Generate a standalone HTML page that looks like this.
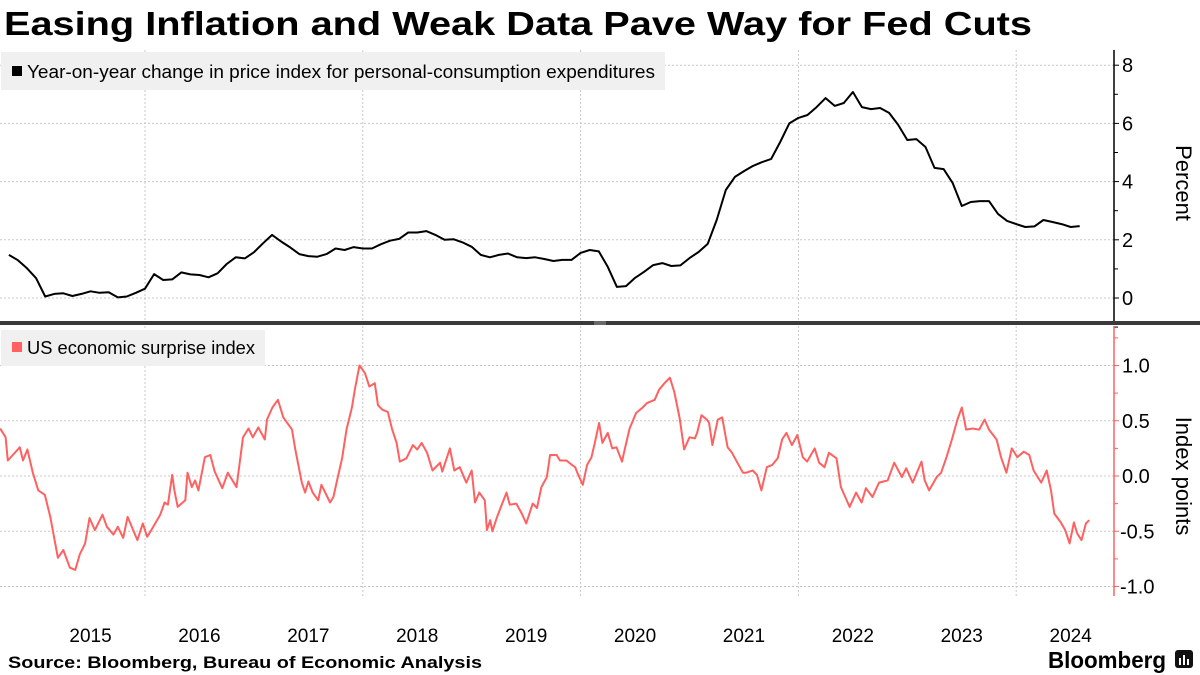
<!DOCTYPE html>
<html><head><meta charset="utf-8"><style>
body{margin:0;background:#fff;}
svg{display:block;font-family:"Liberation Sans",sans-serif;}
</style></head><body>
<svg id="chart" width="1200" height="675" viewBox="0 0 1200 675" xmlns="http://www.w3.org/2000/svg">
<text x="4" y="35" font-size="33" font-weight="bold" textLength="1028" lengthAdjust="spacingAndGlyphs">Easing Inflation and Weak Data Pave Way for Fed Cuts</text>
<g id="grid"></g>
<rect x="1" y="52" width="664" height="38" fill="#f0f0f0"/>
<rect x="12" y="66" width="10" height="10" fill="#000"/>
<text x="27" y="78" font-size="18" textLength="628" lengthAdjust="spacingAndGlyphs">Year-on-year change in price index for personal-consumption expenditures</text>
<rect x="1" y="330" width="264" height="36" fill="#f0f0f0"/>
<rect x="12" y="342" width="10" height="10" fill="#ff6161"/>
<text x="27" y="354" font-size="18" textLength="228" lengthAdjust="spacingAndGlyphs">US economic surprise index</text>
<g id="series"></g>
<g id="axes"></g>
<rect x="0" y="321" width="1200" height="4" fill="#3a3a3a"/>
<line x1="594" y1="322" x2="606" y2="322" stroke="#999" stroke-width="1"/>
<line x1="594" y1="324" x2="606" y2="324" stroke="#999" stroke-width="1"/>
<text x="8" y="668" font-size="17" font-weight="bold" textLength="474" lengthAdjust="spacingAndGlyphs">Source: Bloomberg, Bureau of Economic Analysis</text>
<text x="1048" y="668" font-size="23" font-weight="bold" textLength="118" lengthAdjust="spacingAndGlyphs">Bloomberg</text>
<g>
<rect x="1175" y="650" width="18" height="18" rx="3" fill="#111"/>
<rect x="1179" y="658" width="2" height="7" fill="#fff"/><rect x="1183" y="655" width="2" height="10" fill="#fff"/><rect x="1187" y="659" width="2" height="6" fill="#fff"/>
</g>
</svg>
<script>
// PCE monthly YoY, starting Sep 2014
const pceStart = 2014.75;
const pceValues = [1.48,1.3,1.02,0.68,
0.05,0.14,0.16,0.07,0.14,0.23,0.18,0.2,0.02,0.05,0.18,0.32,
0.82,0.62,0.64,0.88,0.81,0.79,0.71,0.85,1.17,1.4,1.36,1.57,
1.88,2.17,1.94,1.74,1.51,1.44,1.42,1.51,1.7,1.65,1.75,1.7,
1.7,1.85,1.97,2.03,2.25,2.25,2.3,2.17,2.0,2.02,1.91,1.76,
1.48,1.4,1.48,1.53,1.4,1.37,1.4,1.34,1.27,
1.31,1.31,1.55,1.65,1.6,1.07,0.38,0.41,0.69,0.9,1.13,1.2,1.1,1.12,1.37,1.58,1.86,2.68,3.71,4.16,4.36,4.54,4.67,4.78,5.36,6.0,6.19,6.29,6.56,6.87,6.6,6.7,7.08,6.56,6.49,6.53,6.36,5.95,5.43,5.46,5.19,4.47,4.43,3.95,3.16,3.3,3.33,3.33,2.89,2.65,2.54,2.44,2.46,2.68,2.61,2.54,2.44,2.47];
const surpriseDates = [2014.67,2014.72,2014.74,2014.85,2014.88,2014.92,2014.97,2015.02,2015.08,2015.13,2015.17,2015.20,2015.25,2015.31,2015.36,2015.40,2015.45,2015.49,2015.54,2015.61,2015.65,2015.71,2015.75,2015.80,2015.84,2015.93,2015.98,2016.02,2016.07,2016.14,2016.18,2016.21,2016.25,2016.27,2016.30,2016.37,2016.39,2016.43,2016.46,2016.49,2016.55,2016.60,2016.64,2016.71,2016.76,2016.84,2016.87,2016.90,2016.95,2016.99,2017.04,2017.10,2017.12,2017.17,2017.22,2017.27,2017.35,2017.38,2017.44,2017.47,2017.50,2017.54,2017.59,2017.62,2017.70,2017.73,2017.77,2017.81,2017.85,2017.90,2017.93,2017.97,2018.02,2018.06,2018.11,2018.14,2018.18,2018.23,2018.27,2018.31,2018.34,2018.40,2018.46,2018.50,2018.54,2018.59,2018.64,2018.71,2018.73,2018.80,2018.84,2018.89,2018.95,2019.00,2019.03,2019.07,2019.12,2019.14,2019.17,2019.19,2019.23,2019.28,2019.32,2019.35,2019.41,2019.46,2019.50,2019.56,2019.60,2019.64,2019.69,2019.72,2019.78,2019.81,2019.87,2019.92,2019.95,2019.97,2020.02,2020.06,2020.10,2020.13,2020.17,2020.20,2020.25,2020.29,2020.33,2020.38,2020.40,2020.45,2020.51,2020.57,2020.61,2020.68,2020.72,2020.77,2020.82,2020.86,2020.91,2020.95,2021.00,2021.05,2021.07,2021.11,2021.16,2021.18,2021.21,2021.26,2021.30,2021.35,2021.39,2021.44,2021.49,2021.52,2021.58,2021.62,2021.66,2021.71,2021.76,2021.81,2021.85,2021.89,2021.94,2021.99,2022.04,2022.08,2022.15,2022.19,2022.24,2022.28,2022.35,2022.39,2022.47,2022.53,2022.58,2022.62,2022.68,2022.74,2022.82,2022.88,2022.95,2022.99,2023.05,2023.13,2023.16,2023.20,2023.27,2023.31,2023.36,2023.41,2023.46,2023.50,2023.54,2023.60,2023.66,2023.71,2023.75,2023.82,2023.86,2023.91,2023.96,2024.01,2024.07,2024.12,2024.16,2024.23,2024.28,2024.32,2024.35,2024.41,2024.45,2024.49,2024.53,2024.56,2024.60,2024.64,2024.67];
const surpriseValues = [0.43,0.35,0.14,0.26,0.14,0.24,0.03,-0.13,-0.17,-0.37,-0.58,-0.74,-0.67,-0.83,-0.85,-0.71,-0.61,-0.38,-0.49,-0.35,-0.46,-0.53,-0.46,-0.56,-0.37,-0.58,-0.43,-0.55,-0.47,-0.35,-0.24,-0.26,0.01,-0.13,-0.28,-0.22,0.03,-0.10,-0.04,-0.13,0.17,0.19,0.04,-0.11,0.03,-0.10,0.12,0.35,0.43,0.35,0.44,0.33,0.51,0.62,0.69,0.53,0.42,0.24,-0.06,-0.15,-0.05,-0.15,-0.22,-0.08,-0.24,-0.19,-0.01,0.16,0.42,0.62,0.80,1.0,0.93,0.81,0.84,0.64,0.60,0.58,0.42,0.30,0.13,0.16,0.28,0.24,0.30,0.21,0.05,0.12,0.04,0.25,0.05,0.08,-0.06,0.05,-0.24,-0.15,-0.22,-0.49,-0.40,-0.50,-0.38,-0.25,-0.15,-0.26,-0.25,-0.34,-0.43,-0.25,-0.29,-0.10,-0.01,0.19,0.19,0.14,0.14,0.10,0.08,0.03,-0.08,0.10,0.17,0.30,0.48,0.30,0.39,0.25,0.26,0.13,0.22,0.43,0.57,0.62,0.66,0.69,0.78,0.84,0.89,0.76,0.52,0.24,0.35,0.34,0.39,0.55,0.51,0.48,0.28,0.51,0.53,0.26,0.21,0.12,0.03,0.03,0.05,0.01,-0.13,0.08,0.10,0.16,0.33,0.39,0.28,0.37,0.17,0.13,0.25,0.12,0.08,0.21,0.16,-0.10,-0.28,-0.15,-0.24,-0.11,-0.19,-0.06,-0.04,0.12,-0.01,0.07,-0.06,0.13,-0.04,-0.13,-0.01,0.03,0.17,0.33,0.51,0.62,0.42,0.43,0.42,0.51,0.42,0.33,0.17,0.03,0.25,0.17,0.22,0.19,0.05,-0.06,0.05,-0.13,-0.34,-0.42,-0.49,-0.61,-0.42,-0.52,-0.58,-0.43,-0.40];
const yearLabels = [2015,2016,2017,2018,2019,2020,2021,2022,2023,2024];
const gridYears = [2016,2018,2020,2022,2024];
const pceTicks = [0,2,4,6,8];
const surpriseTicks = [-1.0,-0.5,0.0,0.5,1.0];

const NS="http://www.w3.org/2000/svg";
const AX=1114;
const xS=t=>145+(t-2016)*108.9;
const yTop=v=>298-v*29.1;
const yBot=v=>476-v*110.5;
function mk(tag,attrs,parent){const e=document.createElementNS(NS,tag);for(const k in attrs)e.setAttribute(k,attrs[k]);parent.appendChild(e);return e;}
const grid=document.getElementById('grid'),series=document.getElementById('series'),axes=document.getElementById('axes');

gridYears.forEach(y=>{const l=mk('line',{x1:xS(y),x2:xS(y),y1:50,y2:596,stroke:'#c8c8c8','stroke-dasharray':'2,2'},grid);

});
pceTicks.forEach(v=>{const l=mk('line',{x1:0,x2:AX,y1:yTop(v),y2:yTop(v),stroke:'#c8c8c8','stroke-dasharray':'2,2'},grid);

});
surpriseTicks.forEach(v=>{const l=mk('line',{x1:0,x2:AX,y1:yBot(v),y2:yBot(v),stroke:'#c8c8c8','stroke-dasharray':'2,2'},grid);

});

const pcePts=pceValues.map((v,i)=>xS(pceStart+i/12).toFixed(1)+','+yTop(v).toFixed(1)).join(' ');
const pl=mk('polyline',{points:pcePts,fill:'none',stroke:'#000','stroke-width':2,'stroke-linejoin':'round'},series);


const sPts=surpriseValues.map((v,i)=>xS(surpriseDates[i]).toFixed(1)+','+yBot(v).toFixed(1)).join(' ');
const sl=mk('polyline',{points:sPts,fill:'none',stroke:'#ff6161','stroke-width':2,'stroke-linejoin':'round'},series);



// top axis
const ta=mk('line',{x1:AX,x2:AX,y1:50,y2:321,stroke:'#000','stroke-width':1.5},axes);


for(let v=-1;v<=8;v++){const y=yTop(v);if(y<50)continue;mk('line',{x1:AX,x2:AX+(v%2===0?5:4),y1:y,y2:y,stroke:'#000'},axes);}
pceTicks.forEach(v=>{const t=mk('text',{x:AX+8,y:yTop(v)+7,'font-size':20},axes);t.textContent=v;

});
const pt=mk('text',{transform:'translate(1176,183) rotate(90)','font-size':22,'text-anchor':'middle'},axes);pt.textContent='Percent';



// bottom axis
const ba=mk('line',{x1:AX,x2:AX,y1:326,y2:596,stroke:'#ff6161','stroke-width':1.5},axes);


for(let k=-4;k<=5;k++){const v=k*0.25;const y=yBot(v);mk('line',{x1:AX,x2:AX+(k%2===0?5:4),y1:y,y2:y,stroke:'#ff6161'},axes);}
surpriseTicks.forEach(v=>{const t=mk('text',{x:v<0?AX+6:AX+8,y:yBot(v)+7,'font-size':20},axes);t.textContent=v.toFixed(1);

});
const st=mk('text',{transform:'translate(1176,476) rotate(90)','font-size':22,'text-anchor':'middle'},axes);st.textContent='Index points';



yearLabels.forEach(y=>{const t=mk('text',{x:xS(y+0.5),y:642,'font-size':19,'text-anchor':'middle'},axes);t.textContent=y;

});
</script>
</body></html>
